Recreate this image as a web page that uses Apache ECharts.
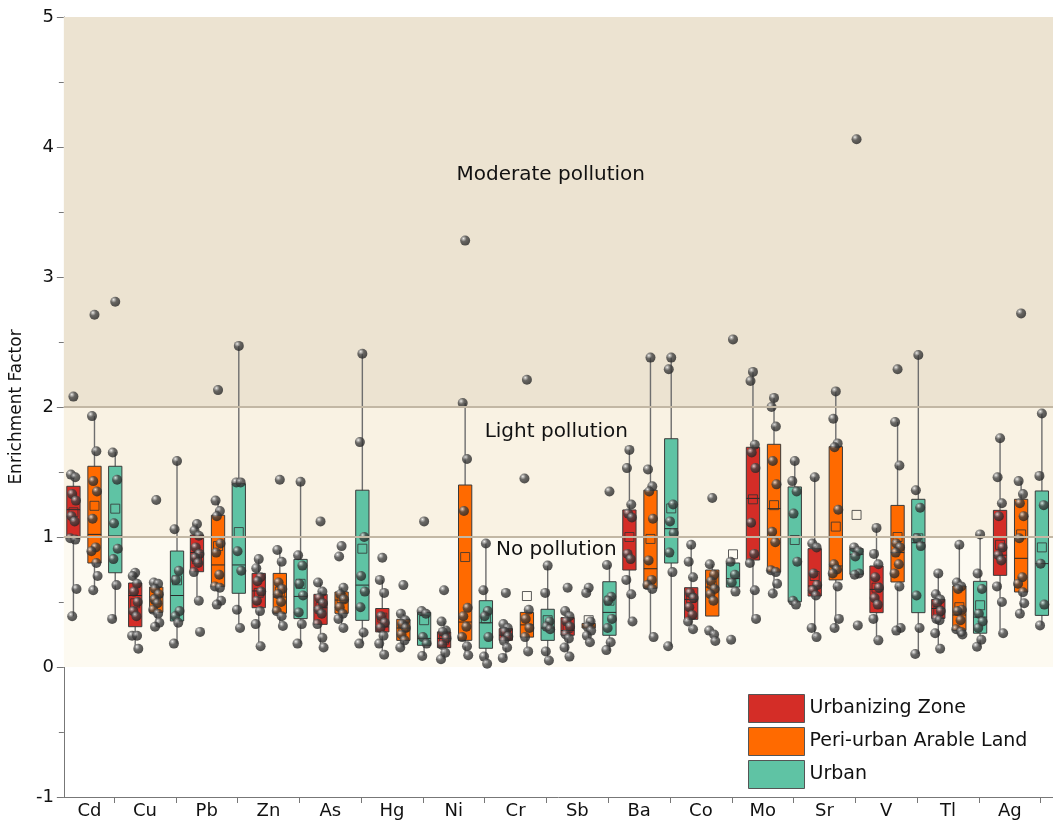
<!DOCTYPE html>
<html>
<head>
<meta charset="utf-8">
<script src="https://cdn.jsdelivr.net/npm/echarts@6/dist/echarts.min.js"></script>
<style>
  html, body { margin: 0; padding: 0; background: #fff; }
  #chart { width: 1053px; height: 821px; }
</style>
</head>
<body>
<div id="chart"></div>
<script>
// categories and groups
const elements = ['Cd', 'Cu', 'Pb', 'Zn', 'As', 'Hg', 'Ni', 'Cr', 'Sb', 'Ba', 'Co', 'Mo', 'Sr', 'V', 'Tl', 'Ag'];
const groupNames = ['Urbanizing Zone', 'Peri-urban Arable Land', 'Urban'];
const zoneNames = ['No pollution', 'Light pollution', 'Moderate pollution'];
const zoneBreaks = [0, 1, 2, 5];

// box stats [min, Q1, median, Q3, max]
const boxUrbanizing = [
  [0.39, 0.99, 1.21, 1.39, 1.48], [0.14, 0.31, 0.55, 0.646, 0.725], [0.51, 0.733, 0.88, 1.015, 1.10],
  [0.16, 0.456, 0.585, 0.72, 0.83], [0.15, 0.328, 0.456, 0.559, 0.65], [0.095, 0.27, 0.308, 0.45, 0.67],
  [0.06, 0.149, 0.22, 0.27, 0.35], [0.07, 0.205, 0.245, 0.295, 0.33], [0.08, 0.244, 0.28, 0.38, 0.43],
  [0.35, 0.746, 0.998, 1.208, 1.67], [0.29, 0.367, 0.52, 0.61, 0.94], [0.37, 0.823, 1.297, 1.69, 2.27],
  [0.23, 0.546, 0.623, 0.91, 1.46], [0.205, 0.418, 0.597, 0.777, 1.07], [0.136, 0.374, 0.45, 0.52, 0.72],
  [0.26, 0.705, 0.86, 1.205, 1.76]
];
const boxPeriUrban = [
  [0.59, 0.80, 1.02, 1.544, 1.93], [0.31, 0.42, 0.538, 0.615, 0.65], [0.474, 0.618, 0.785, 1.167, 1.28],
  [0.315, 0.413, 0.538, 0.72, 0.90], [0.30, 0.413, 0.515, 0.577, 0.613], [0.15, 0.205, 0.30, 0.367, 0.41],
  [0.092, 0.205, 0.346, 1.40, 2.03], [0.12, 0.23, 0.324, 0.42, 0.44], [0.19, 0.30, 0.315, 0.335, 0.35],
  [0.23, 0.605, 0.756, 1.36, 2.38], [0.392, 0.392, 0.615, 0.746, 0.79], [0.565, 0.73, 1.218, 1.713, 2.07],
  [0.30, 0.67, 0.777, 1.695, 2.12], [0.28, 0.654, 0.88, 1.243, 1.885], [0.25, 0.28, 0.40, 0.623, 0.944],
  [0.41, 0.577, 0.836, 1.29, 1.43]
];
const boxUrban = [
  [0.367, 0.725, 1.008, 1.544, 1.654], [0.18, 0.354, 0.55, 0.892, 1.585], [0.30, 0.567, 0.785, 1.41, 2.47],
  [0.18, 0.372, 0.543, 0.828, 1.425], [0.18, 0.359, 0.63, 1.36, 2.41], [0.085, 0.167, 0.22, 0.42, 0.43],
  [0.025, 0.144, 0.34, 0.51, 0.95], [0.05, 0.205, 0.30, 0.444, 0.78], [0.123, 0.244, 0.42, 0.656, 0.785],
  [0.16, 0.80, 1.064, 1.756, 2.38], [0.615, 0.615, 0.68, 0.80, 0.81], [0.477, 0.502, 1.0, 1.385, 1.585],
  [0.713, 0.713, 0.867, 0.91, 0.92], [0.10, 0.418, 0.956, 1.29, 2.40], [0.156, 0.26, 0.384, 0.659, 1.02],
  [0.32, 0.397, 0.795, 1.354, 1.95]
];

// means (hollow squares)
const meanUrbanizing = [1.19, 0.49, 0.83, 0.57, 0.46, 0.38, 0.21, 0.25, 0.30, 1.0, 0.53, 1.29, 0.70, 0.61, 0.43, 0.94];
const meanPeriUrban = [1.24, 0.52, 0.93, 0.58, 0.53, 0.31, 0.846, 0.546, 0.36, 0.985, 0.64, 1.245, 1.08, 1.0, 0.46, 1.02];
const meanUrban = [1.218, 0.667, 1.038, 0.64, 0.91, 0.36, 0.374, 0.36, 0.51, 1.22, 0.867, 0.977, 1.17, 0.99, 0.475, 0.92];

// individual samples
const ptsUrbanizing = [
  [2.08, 1.48, 1.46, 1.33, 1.28, 1.16, 1.12, 0.99, 0.98, 0.60, 0.39],
  [0.725, 0.70, 0.64, 0.58, 0.50, 0.43, 0.39, 0.24, 0.24, 0.14],
  [1.10, 1.05, 1.01, 0.92, 0.87, 0.84, 0.80, 0.73, 0.51, 0.27],
  [0.83, 0.76, 0.69, 0.66, 0.58, 0.51, 0.43, 0.33, 0.16],
  [1.12, 0.65, 0.58, 0.53, 0.49, 0.44, 0.41, 0.33, 0.225, 0.15],
  [0.84, 0.67, 0.57, 0.39, 0.34, 0.30, 0.24, 0.18, 0.095],
  [0.59, 0.35, 0.28, 0.27, 0.22, 0.17, 0.11, 0.06],
  [0.57, 0.33, 0.30, 0.27, 0.235, 0.20, 0.15, 0.07],
  [0.61, 0.43, 0.39, 0.35, 0.31, 0.25, 0.22, 0.15, 0.08],
  [1.67, 1.53, 1.25, 1.18, 1.15, 0.87, 0.83, 0.67, 0.56, 0.35],
  [0.94, 0.81, 0.69, 0.57, 0.53, 0.46, 0.40, 0.35, 0.29],
  [2.27, 2.20, 1.71, 1.65, 1.53, 1.11, 0.87, 0.80, 0.59, 0.37],
  [1.46, 0.95, 0.92, 0.72, 0.63, 0.59, 0.55, 0.30, 0.23],
  [1.07, 0.87, 0.79, 0.69, 0.61, 0.53, 0.48, 0.37, 0.205],
  [0.72, 0.56, 0.52, 0.49, 0.43, 0.37, 0.36, 0.26, 0.14],
  [1.76, 1.46, 1.26, 1.16, 0.92, 0.86, 0.82, 0.62, 0.50, 0.26]
];
const ptsPeriUrban = [
  [2.71, 1.93, 1.66, 1.43, 1.35, 1.14, 0.92, 0.89, 0.80, 0.70, 0.59],
  [1.285, 0.65, 0.64, 0.60, 0.56, 0.52, 0.49, 0.44, 0.41, 0.34, 0.31],
  [2.13, 1.28, 1.20, 1.16, 0.95, 0.88, 0.71, 0.62, 0.61, 0.51, 0.48],
  [1.44, 0.90, 0.81, 0.65, 0.60, 0.56, 0.50, 0.43, 0.39, 0.315],
  [0.93, 0.85, 0.61, 0.56, 0.52, 0.46, 0.41, 0.37, 0.30],
  [0.63, 0.41, 0.36, 0.33, 0.30, 0.25, 0.205, 0.15],
  [3.28, 2.03, 1.60, 1.20, 0.455, 0.39, 0.31, 0.23, 0.16, 0.09],
  [2.21, 1.45, 0.44, 0.37, 0.30, 0.23, 0.12],
  [0.61, 0.57, 0.35, 0.31, 0.28, 0.24, 0.19],
  [2.38, 1.52, 1.39, 1.35, 1.14, 0.82, 0.67, 0.63, 0.60, 0.23],
  [1.30, 0.79, 0.71, 0.66, 0.60, 0.56, 0.51, 0.28, 0.25, 0.20],
  [2.07, 2.0, 1.85, 1.585, 1.405, 1.04, 0.96, 0.745, 0.73, 0.64, 0.565],
  [2.12, 1.91, 1.72, 1.69, 1.21, 0.79, 0.75, 0.72, 0.62, 0.37, 0.30],
  [2.29, 1.885, 1.55, 0.95, 0.92, 0.88, 0.79, 0.72, 0.62, 0.30, 0.28],
  [0.94, 0.65, 0.62, 0.60, 0.44, 0.43, 0.36, 0.29, 0.27, 0.25],
  [2.72, 1.43, 1.33, 1.26, 1.16, 0.99, 0.69, 0.64, 0.575, 0.49, 0.41]
];
const ptsUrban = [
  [2.81, 1.65, 1.44, 1.105, 0.91, 0.83, 0.63, 0.37],
  [1.585, 1.06, 0.74, 0.67, 0.43, 0.39, 0.34, 0.18],
  [2.47, 1.42, 1.42, 0.89, 0.74, 0.44, 0.30],
  [1.425, 0.86, 0.78, 0.64, 0.55, 0.42, 0.33, 0.18],
  [2.41, 1.73, 1.0, 0.70, 0.58, 0.46, 0.265, 0.18],
  [1.12, 0.43, 0.41, 0.23, 0.18, 0.085],
  [0.95, 0.59, 0.43, 0.39, 0.23, 0.08, 0.025],
  [0.78, 0.57, 0.35, 0.31, 0.29, 0.12, 0.05],
  [1.35, 0.785, 0.54, 0.51, 0.37, 0.30, 0.19, 0.13],
  [2.38, 2.29, 1.25, 1.12, 1.03, 0.88, 0.73, 0.16],
  [2.52, 0.81, 0.71, 0.65, 0.58, 0.21],
  [1.585, 1.43, 1.35, 1.18, 0.81, 0.51, 0.48],
  [4.06, 0.92, 0.89, 0.85, 0.72, 0.71, 0.32],
  [2.40, 1.36, 1.225, 0.99, 0.93, 0.55, 0.30, 0.10],
  [1.02, 0.72, 0.60, 0.41, 0.35, 0.30, 0.21, 0.156],
  [1.95, 1.47, 1.245, 0.795, 0.48, 0.32]
];

// layout / style
const FONT = 'DejaVu Sans';
const colors = ['#d42d27', '#ff6a00', '#5fc3a4'];
const offsets = [0.343, 0.684, 1.02];   // box centre inside each category slot
const boxW = 0.215;
const jitter = [0, -0.04, 0.03, -0.02, 0.04, -0.03, 0.02, -0.05, 0.03, 0.05, -0.02];
const bandColors = ['#fdfaf1', '#f9f2e3', '#ece3d1'];

const groups = [
  { box: boxUrbanizing, mean: meanUrbanizing, pts: ptsUrbanizing },
  { box: boxPeriUrban, mean: meanPeriUrban, pts: ptsPeriUrban },
  { box: boxUrban, mean: meanUrban, pts: ptsUrban }
];

const chart = echarts.init(document.getElementById('chart'));

function boxRenderer(color) {
  return function (params, api) {
    const x = api.value(0);
    const pMin = api.coord([x, api.value(1)]);
    const pQ1 = api.coord([x, api.value(2)]);
    const pMed = api.coord([x, api.value(3)]);
    const pQ3 = api.coord([x, api.value(4)]);
    const pMax = api.coord([x, api.value(5)]);
    const w = api.size([boxW, 0])[0];
    return {
      type: 'group',
      children: [
        { type: 'line', shape: { x1: pMin[0], y1: pMin[1], x2: pMax[0], y2: pMax[1] },
          style: { stroke: '#6e6e6e', lineWidth: 1.4 } },
        { type: 'rect', shape: { x: pQ3[0] - w / 2, y: pQ3[1], width: w, height: pQ1[1] - pQ3[1] },
          style: { fill: color, stroke: '#3a3a3a', lineWidth: 1 } },
        { type: 'line', shape: { x1: pMed[0] - w / 2, y1: pMed[1], x2: pMed[0] + w / 2, y2: pMed[1] },
          style: { stroke: '#2a2a2a', lineWidth: 1 } }
      ]
    };
  };
}

// shaded grey ball
const sphere = {
  type: 'radial', x: 0.34, y: 0.3, r: 0.8,
  colorStops: [
    { offset: 0, color: '#f2f2f2' },
    { offset: 0.14, color: '#a8a8a8' },
    { offset: 0.38, color: '#464646' },
    { offset: 1, color: '#1e1e1e' }
  ]
};

const series = [];

// pollution bands
series.push({
  name: 'bands',
  type: 'line',
  data: [],
  z: 0,
  silent: true,
  markArea: {
    silent: true,
    data: zoneNames.map((n, k) => [
      { yAxis: zoneBreaks[k], itemStyle: { color: bandColors[k] } },
      { yAxis: zoneBreaks[k + 1] }
    ])
  },
  markLine: {
    silent: true,
    symbol: 'none',
    label: { show: false },
    lineStyle: { color: '#c2b7a4', width: 2, type: 'solid' },
    data: [{ yAxis: zoneBreaks[1] }, { yAxis: zoneBreaks[2] }]
  },
  markPoint: {
    silent: true,
    symbolSize: 0,
    label: { show: true, position: 'inside', fontFamily: FONT, fontSize: 20, color: '#111', formatter: '{b}' },
    data: [
      { name: zoneNames[2], coord: [8.07, 3.785] },
      { name: zoneNames[1], coord: [8.16, 1.81] },
      { name: zoneNames[0], coord: [8.16, 0.90] }
    ]
  }
});

groups.forEach((g, k) => {
  series.push({
    name: groupNames[k],
    type: 'custom',
    z: 2,
    itemStyle: { color: colors[k] },
    renderItem: boxRenderer(colors[k]),
    encode: { x: 0, y: [1, 2, 3, 4, 5] },
    data: g.box.map((b, i) => [i + offsets[k]].concat(b))
  });
  series.push({
    name: groupNames[k] + ' mean',
    type: 'scatter',
    z: 3,
    symbol: 'rect',
    symbolSize: 9,
    itemStyle: { color: 'rgba(0,0,0,0)', borderColor: '#333', borderWidth: 1 },
    data: g.mean.map((m, i) => [i + offsets[k], m])
  });
  const pts = [];
  g.pts.forEach((arr, i) => {
    arr.forEach((v, j) => pts.push([i + offsets[k] + jitter[j % jitter.length], v]));
  });
  series.push({
    name: groupNames[k] + ' samples',
    type: 'scatter',
    z: 4,
    symbolSize: 10,
    itemStyle: { color: sphere },
    data: pts
  });
});

const labelPos = elements.map((e, i) => (i === 0 ? 0.604 : i + 0.5));
const tickPos = elements.map((e, i) => i + 1);

const option = {
  animation: false,
  backgroundColor: '#fff',
  grid: { left: 62, top: 17, width: 1000, bottom: 24 },
  legend: {
    orient: 'vertical',
    left: 748,
    top: 694,
    padding: 0,
    itemWidth: 56,
    itemHeight: 28,
    itemGap: 4,
    icon: 'rect',
    itemStyle: { borderColor: '#555', borderWidth: 1 },
    textStyle: { fontFamily: FONT, fontSize: 19, color: '#111' },
    data: groupNames.map((n, k) => ({ name: n, itemStyle: { color: colors[k] } }))
  },
  xAxis: {
    type: 'value',
    min: 0.188,
    max: 16.2,
    axisLine: { show: true, onZero: false, lineStyle: { color: '#777', width: 1 } },
    axisTick: { show: true, customValues: tickPos, length: 6, lineStyle: { color: '#777' } },
    axisLabel: {
      customValues: labelPos,
      margin: 5,
      fontFamily: FONT,
      fontSize: 18,
      color: '#111',
      formatter: v => elements[Math.floor(v)]
    },
    splitLine: { show: false }
  },
  yAxis: {
    type: 'value',
    min: -1,
    max: 5,
    interval: 1,
    name: 'Enrichment Factor',
    nameLocation: 'middle',
    nameGap: 31,
    nameTextStyle: { fontFamily: FONT, fontSize: 17, color: '#111' },
    axisLine: { show: true, lineStyle: { color: '#777', width: 1 } },
    axisTick: { show: true, length: 7, lineStyle: { color: '#777' } },
    minorTick: { show: true, splitNumber: 2, length: 5, lineStyle: { color: '#777' } },
    axisLabel: { margin: 10, fontFamily: FONT, fontSize: 18, color: '#111' },
    splitLine: { show: false }
  },
  series: series
};

chart.setOption(option);
</script>
</body>
</html>
